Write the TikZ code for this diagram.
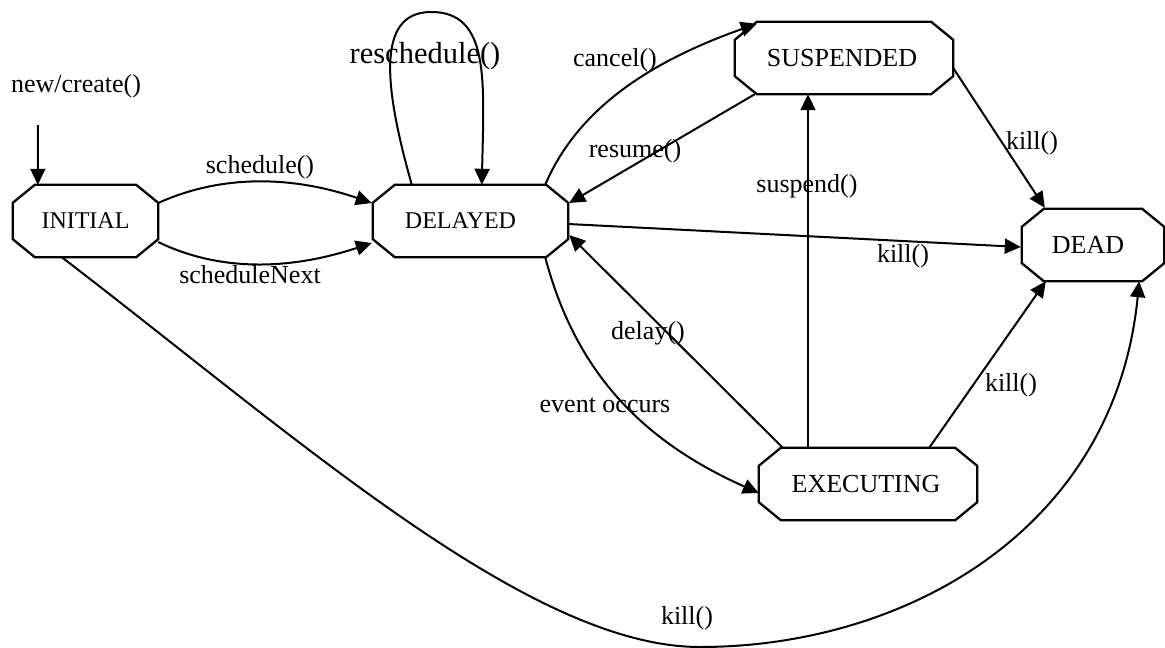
\documentclass[tikz,border=0pt]{standalone}
\usepackage{fontspec}
\setmainfont{Liberation Serif}
\usetikzlibrary{arrows.meta,calc}
\begin{document}
\begin{tikzpicture}[x=1pt,y=-1pt,
  state/.style={rectangle, draw=none, inner sep=0pt, minimum height=72pt,
    font=\fontsize{26}{30}\selectfont},
  outline/.style={line width=2.3pt, line join=miter},
  trans/.style={line width=2pt, -{Triangle[length=16pt,width=15pt]}},
  lbl/.style={anchor=base, inner sep=0pt, font=\fontsize{26}{30}\selectfont},
]
\useasboundingbox (0,0) rectangle (1165,648);

% states
\node[state, minimum width=145pt, font=\fontsize{24}{28}\selectfont] (init) at (85.5,221) {INITIAL};
\node[state, minimum width=195pt, font=\fontsize{24}{28}\selectfont] (del) at (470.5,221) {DELAYED\hspace*{20pt}};
\node[state, minimum width=218pt] (sus) at (844,58) {SUSPENDED\hspace*{4pt}};
\node[state, minimum width=142pt] (dead) at (1093,245) {DEAD\hspace*{10pt}};
\node[state, minimum width=218pt] (exe) at (868,484) {EXECUTING\hspace*{4pt}};

% chamfered outlines of the states
\foreach \n in {init,del,sus,dead,exe}{
  \draw[outline] ($(\n.north west)+(22,0)$) -- ($(\n.north east)+(-22,0)$)
    -- ($(\n.north east)+(0,18)$) -- ($(\n.south east)+(0,-18)$)
    -- ($(\n.south east)+(-22,0)$) -- ($(\n.south west)+(22,0)$)
    -- ($(\n.south west)+(0,-18)$) -- ($(\n.north west)+(0,18)$) -- cycle;
}

% initial transition
\coordinate (start) at (38,125);
\draw[trans] (start) -- ($(init.north west)+(25,0)$);

% transitions
\draw[trans] ($(init.east)+(0,-18)$) .. controls (220,175) and (290,175) .. ($(del.west)+(-1,-18)$);
\draw[trans] ($(init.east)+(0,21)$) .. controls (220,272) and (290,270) .. ($(del.west)+(-1,22)$);
\draw[trans] ($(del.north west)+(39,0)$) .. controls (385,90) and (375,13) .. (430,12)
  .. controls (490,11) and (484,80) .. ($(del.north west)+(109,0)$);
\draw[trans] ($(del.north east)+(-23,0)$) .. controls (575,115) and (640,65) .. ($(sus.north west)+(22,2)$);
\draw[trans] ($(sus.south west)+(20,0)$) -- ($(del.east)+(1,-18)$);
\draw[trans] ($(del.east)+(0,3)$) -- ($(dead.west)+(-1,2)$);
\draw[trans] ($(exe.north)+(-60,0)$) -- ($(sus.south)+(-36,0)$);
\draw[trans] ($(sus.east)+(0,10)$) -- ($(dead.north west)+(23,-1)$);
\draw[trans] ($(exe.north east)+(-48,0)$) -- ($(dead.south west)+(24,0)$);
\draw[trans] ($(exe.north west)+(24,0)$) -- ($(del.east)+(1,14)$);
\draw[trans] ($(del.south east)+(-23,0)$) .. controls (575,370) and (640,440) .. ($(exe.west)+(0,9)$);
\draw[trans] ($(init.south west)+(49,0)$) .. controls (300,440) and (530,647) .. (700,647)
  .. controls (905,647) and (1115,530) .. ($(dead.south east)+(-25,0)$);

% transition labels
\node[lbl] (lcreate) at (76,92) {new/create()};
\node[lbl] (lsched) at (260,173) {schedule()};
\node[lbl] (lnext) at (250,283) {scheduleNext};
\node[lbl, font=\fontsize{30.5}{35}\selectfont] (lresched) at (425,63) {reschedule()};
\node[lbl] (lcancel) at (615,66) {cancel()};
\node[lbl] (lresume) at (635,157) {resume()};
\node[lbl] (lkilla) at (903,262) {kill()};
\node[lbl] (lsusp) at (807,192) {suspend()};
\node[lbl] (lkillb) at (1032,149) {kill()};
\node[lbl] (ldelay) at (648,339) {delay()};
\node[lbl] (levent) at (605,412) {event occurs};
\node[lbl] (lkillc) at (1011,391) {kill()};
\node[lbl] (lkilld) at (687,624) {kill()};
\end{tikzpicture}
\end{document}
